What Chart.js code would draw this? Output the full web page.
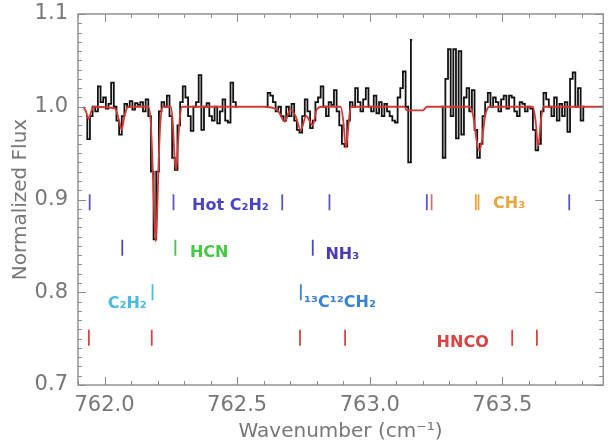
<!DOCTYPE html>
<html>
<head>
<meta charset="utf-8">
<script src="https://cdn.jsdelivr.net/npm/chart.js@4"></script>
<style>
html,body{margin:0;padding:0;background:#fff;}
#wrap{width:613px;height:444px;}
</style>
</head>
<body>
<div id="wrap"><canvas id="c" width="613" height="444"></canvas></div>
<script>
// ---------- DATA ----------
// observed spectrum (black), null = gap between the three pieces
const obsWave = [
  761.93,761.94,761.95,761.96,761.97,761.98,761.99,762.00,762.01,762.02,
  762.03,762.04,762.05,762.06,762.07,762.08,762.09,762.10,762.11,762.12,
  762.13,762.14,762.15,762.16,762.17,762.18,762.19,762.20,762.21,762.22,
  762.23,762.24,762.25,762.26,762.27,762.28,762.29,762.30,762.31,762.32,
  762.33,762.34,762.35,762.36,762.37,762.38,762.39,762.40,762.41,762.42,
  762.43,762.44,762.45,762.46,762.47,762.48,762.49,762.50,
  762.55,
  762.61,762.62,762.63,762.64,762.65,762.66,762.67,762.68,762.69,762.70,
  762.71,762.72,762.73,762.74,762.75,762.76,762.77,762.78,762.79,762.80,
  762.81,762.82,762.83,762.84,762.85,762.86,762.87,762.88,762.89,762.90,
  762.91,762.92,762.93,762.94,762.95,762.96,762.97,762.98,762.99,763.00,
  763.01,763.02,763.03,763.04,763.05,763.06,763.07,763.08,763.09,763.10,
  763.11,763.12,763.13,763.14,763.15,763.16,
  763.21,
  763.27,763.28,763.29,763.30,763.31,763.32,763.33,763.34,763.35,763.36,
  763.37,763.38,763.39,763.40,763.41,763.42,763.43,763.44,763.45,763.46,
  763.47,763.48,763.49,763.50,763.51,763.52,763.53,763.54,763.55,763.56,
  763.57,763.58,763.59,763.60,763.61,763.62,763.63,763.64,763.65,763.66,
  763.67,763.68,763.69,763.70,763.71,763.72,763.73,763.74,763.75,763.76,
  763.77,763.78,763.79,763.80,763.81
];
const obsFlux = [
  0.990,0.965,0.990,1.000,0.995,1.022,1.005,1.010,0.998,1.003,
  1.026,1.000,0.985,0.970,0.990,1.003,1.000,1.006,0.997,1.004,
  1.002,1.005,0.995,1.008,0.990,0.930,0.857,0.930,0.995,1.005,
  1.000,1.012,0.990,0.945,0.932,0.980,1.005,1.022,1.010,0.990,
  0.974,1.000,1.005,1.034,0.975,1.000,1.004,0.990,0.985,1.000,
  0.982,0.995,1.008,0.985,0.983,1.026,1.005,1.000,
  null,
  1.000,1.015,1.012,1.005,0.995,1.000,0.990,0.985,1.000,0.990,
  1.003,0.985,0.975,0.972,0.990,1.008,0.995,0.977,0.985,1.005,
  1.010,1.022,1.000,0.990,1.005,1.002,1.018,0.995,0.980,0.960,
  0.957,0.985,1.005,1.000,1.020,1.005,0.995,1.008,1.020,1.000,
  0.995,1.012,0.993,1.005,0.990,1.003,0.995,0.990,0.985,0.983,
  1.010,1.020,1.038,1.000,0.940,1.072,
  null,
  1.000,0.945,1.030,1.062,0.990,1.062,0.966,1.060,0.970,1.010,
  1.020,0.995,1.018,0.975,0.945,0.960,0.990,1.005,1.015,1.000,
  1.010,1.005,0.995,1.008,1.012,0.998,1.012,1.010,0.995,0.990,
  1.005,1.003,0.995,1.000,0.998,0.975,0.953,0.960,0.995,1.015,
  1.008,1.000,0.990,1.010,0.985,1.003,0.990,1.005,0.973,1.030,
  1.037,1.000,1.020,0.985,1.000
];

// model spectrum (red)
const modelWave = [
  761.92,761.93,761.94,761.95,761.96,762.04,762.055,762.065,762.075,762.09,
  762.165,762.175,762.182,762.188,762.193,762.198,762.204,762.211,762.22,
  762.25,762.258,762.264,762.27,762.276,762.283,762.292,
  762.60,762.65,762.68,762.70,762.72,762.74,762.76,762.785,762.80,762.82,
  762.89,762.90,762.91,762.918,762.928,
  763.13,763.14,763.20,763.215,
  763.375,763.39,763.402,763.412,763.422,763.435,763.45,
  763.615,763.625,763.635,763.645,763.655,763.88
];
const modelFlux = [
  1.000,0.995,0.987,0.995,1.000,0.998,0.985,0.975,0.990,1.000,
  1.000,0.980,0.930,0.880,0.855,0.880,0.940,0.985,1.000,
  1.000,0.980,0.945,0.932,0.955,0.985,1.000,
  1.000,0.997,0.984,0.997,0.990,0.975,0.990,0.980,0.997,1.000,
  1.000,0.985,0.956,0.975,1.000,
  1.000,0.996,0.996,1.000,
  1.000,0.990,0.965,0.953,0.962,0.990,1.000,
  1.000,0.985,0.957,0.985,1.000,1.000
];

// line identifications: wavenumbers of the marks, per species
const hotC2H2Marks = [761.944, 762.26, 762.67, 762.848, 763.215, 763.752];
const hncoUpperMarks = [763.233];
const ch3Marks = [763.40, 763.41];
const nh3Marks = [762.067, 762.785];
const hcnMarks = [762.267];
const c2h2Marks = [762.181];
const c13Marks = [762.74];
const hncoMarks = [761.941, 762.178, 762.737, 762.907, 763.537, 763.63];
// flux level of each row of marks
const markRows = [0.897, 0.848, 0.800, 0.751];

const xTicks = [762.0, 762.5, 763.0, 763.5];
const yTicks = [0.7, 0.8, 0.9, 1.0, 1.1];

// species labels: text, wavenumber of left edge, flux level
const labels = [
  {t:'Hot C\u2082H\u2082', x:762.33, y:0.893, c:'#4b44c4'},
  {t:'CH\u2083', x:763.465, y:0.895, c:'#eaa63a'},
  {t:'HCN', x:762.322, y:0.842, c:'#46c846'},
  {t:'NH\u2083', x:762.833, y:0.840, c:'#4a3ab4'},
  {t:'C\u2082H\u2082', x:762.012, y:0.787, c:'#4cbbe0'},
  {t:'\u00b9\u00b3C\u00b9\u00b2CH\u2082', x:762.752, y:0.789, c:'#3a82d4'},
  {t:'HNCO', x:763.252, y:0.745, c:'#d84444'}
];

// ---------- CHART ----------
const pts = (xs, ys) => xs.map((v, i) => ({x: v, y: ys[i]}));
const marks = (xs, row) => xs.map(v => ({x: v, y: markRows[row]}));

function markSet(data, color) {
  return {
    type: 'scatter', data: data, showLine: false, order: 2,
    pointStyle: 'line', rotation: 90, pointRadius: 8, pointHoverRadius: 8,
    borderColor: color, pointBorderColor: color, pointBorderWidth: 1.8
  };
}

const framePlugin = {
  id: 'frame',
  afterDraw(chart) {
    const {ctx, chartArea: a, scales: {x, y}} = chart;
    ctx.save();
    ctx.strokeStyle = '#8c8c8c';
    ctx.lineWidth = 1.4;
    ctx.strokeRect(a.left, a.top, a.right - a.left, a.bottom - a.top);
    ctx.lineWidth = 1;
    ctx.beginPath();
    for (let k = 7619; k <= 7638; k++) {
      const px = Math.round(x.getPixelForValue(k / 10)) + 0.5;
      const len = k % 5 === 0 ? 8 : 4;
      ctx.moveTo(px, a.bottom); ctx.lineTo(px, a.bottom - len);
      ctx.moveTo(px, a.top); ctx.lineTo(px, a.top + len);
    }
    for (let k = 70; k <= 110; k++) {
      const py = Math.round(y.getPixelForValue(k / 100)) + 0.5;
      const len = k % 10 === 0 ? 8 : 4;
      ctx.moveTo(a.left, py); ctx.lineTo(a.left + len, py);
      ctx.moveTo(a.right, py); ctx.lineTo(a.right - len, py);
    }
    ctx.stroke();

    ctx.font = 'bold 16px "DejaVu Sans"';
    ctx.textBaseline = 'middle';
    ctx.textAlign = 'left';
    labels.forEach(l => {
      ctx.fillStyle = l.c;
      ctx.fillText(l.t, x.getPixelForValue(l.x), y.getPixelForValue(l.y));
    });
    ctx.restore();
  }
};

new Chart(document.getElementById('c'), {
  type: 'line',
  data: {
    datasets: [
      {data: pts(modelWave, modelFlux), borderColor: '#d43a34', borderWidth: 1.8,
       pointRadius: 0, cubicInterpolationMode: 'monotone', order: 0},
      {data: pts(obsWave, obsFlux), borderColor: '#111', borderWidth: 1.8,
       pointRadius: 0, stepped: 'middle', spanGaps: false, order: 1},
      markSet(marks(hotC2H2Marks, 0), '#5a56c8'),
      markSet(marks(hncoUpperMarks, 0), '#d87070'),
      markSet(marks(ch3Marks, 0), '#eaa63a'),
      markSet(marks(nh3Marks, 1), '#5048b0'),
      markSet(marks(hcnMarks, 1), '#46c846'),
      markSet(marks(c2h2Marks, 2), '#4cbbe0'),
      markSet(marks(c13Marks, 2), '#3a82d4'),
      markSet(marks(hncoMarks, 3), '#d84444')
    ]
  },
  options: {
    responsive: false,
    animation: false,
    layout: {padding: {top: 14, right: 1, left: 0, bottom: 0}},
    plugins: {legend: {display: false}, tooltip: {enabled: false}},
    scales: {
      x: {
        type: 'linear', min: 761.9, max: 763.88,
        grid: {display: false, drawTicks: false}, border: {display: false},
        afterBuildTicks: s => { s.ticks = xTicks.map(v => ({value: v})); },
        afterFit: s => { s.height = 59; s.paddingLeft = 0; s.paddingRight = 0; },
        ticks: {padding: 8, color: '#777', font: {family: 'DejaVu Sans', size: 21},
                maxRotation: 0, callback: v => v.toFixed(1)},
        title: {display: true, text: 'Wavenumber (cm\u207b\u00b9)', color: '#777',
                font: {family: 'DejaVu Sans', size: 20}, padding: {top: 0, bottom: 0}}
      },
      y: {
        min: 0.7, max: 1.1,
        grid: {display: false, drawTicks: false}, border: {display: false},
        afterBuildTicks: s => { s.ticks = yTicks.map(v => ({value: v})); },
        afterFit: s => { s.width = 78; s.paddingTop = 0; s.paddingBottom = 0; },
        ticks: {padding: 10, color: '#777', font: {family: 'DejaVu Sans', size: 21},
                callback: v => v.toFixed(1)},
        title: {display: true, text: 'Normalized Flux', color: '#777',
                font: {family: 'DejaVu Sans', size: 20}, padding: {top: 9, bottom: 0}}
      }
    }
  },
  plugins: [framePlugin]
});
</script>
</body>
</html>
